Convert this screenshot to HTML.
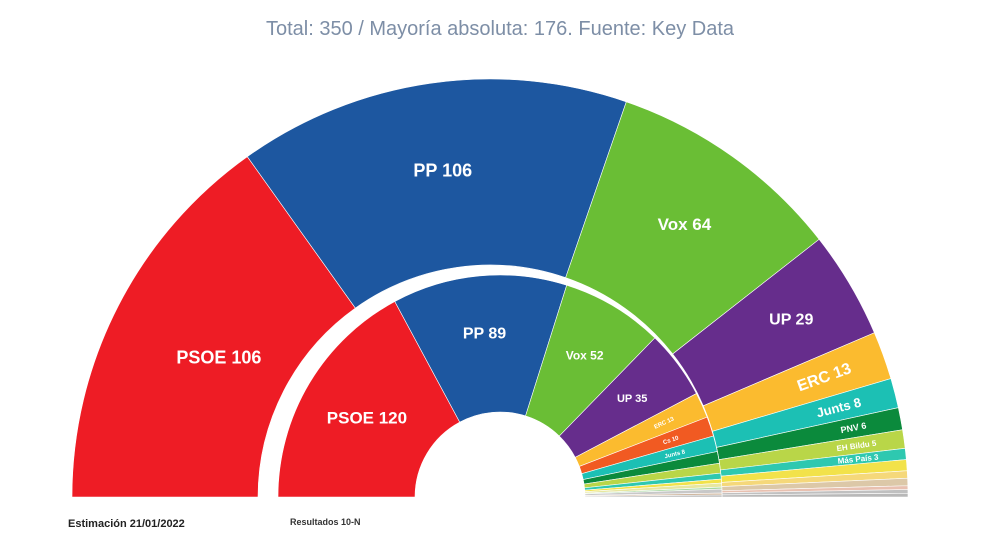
<!DOCTYPE html>
<html><head><meta charset="utf-8"><style>
html,body{margin:0;padding:0;background:#fff;width:990px;height:557px;overflow:hidden;font-family:"Liberation Sans",sans-serif}
</style></head><body>
<svg id="s" width="990" height="557" viewBox="0 0 990 557" xmlns="http://www.w3.org/2000/svg">
<text x="500" y="35" text-anchor="middle" font-size="20" fill="#7d8ea6" font-family="Liberation Sans">Total: 350 / Mayoría absoluta: 176. Fuente: Key Data</text>
<text x="68" y="527" font-size="11" font-weight="bold" fill="#222">Estimación 21/01/2022</text>
<text x="290" y="525" font-size="9" font-weight="bold" fill="#333">Resultados 10-N</text>
</svg>
<script>
var s=document.getElementById('s'),NS='http://www.w3.org/2000/svg';
function arc(cx,cy,r0,r1,a0,a1,col){
 var p=function(r,a){a=a*Math.PI/180;return [cx+r*Math.cos(a),cy-r*Math.sin(a)];};
 var A=p(r1,a0),B=p(r1,a1),C=p(r0,a1),D=p(r0,a0);
 var e=document.createElementNS(NS,'path');
 e.setAttribute('d','M'+A+' A'+r1+','+r1+' 0 0 1 '+B+' L'+C+' A'+r0+','+r0+' 0 0 0 '+D+'Z');
 e.setAttribute('fill',col);e.setAttribute('stroke','#fff');e.setAttribute('stroke-width','0.6');s.appendChild(e);
}
function lab(cx,cy,r,a,t,fs,rot){
 var ar=a*Math.PI/180,x=cx+r*Math.cos(ar),y=cy-r*Math.sin(ar);
 var e=document.createElementNS(NS,'text');
 e.setAttribute('x',x);e.setAttribute('y',y+fs*0.35);e.setAttribute('text-anchor','middle');
 e.setAttribute('font-size',fs);e.setAttribute('font-weight','bold');e.setAttribute('fill','#fff');
 if(rot)e.setAttribute('transform','rotate('+(-a)+' '+x+' '+y+')');
 e.textContent=t;s.appendChild(e);
}
function chart(cx,cy,r0,r1,data){
 var a=180;
 data.forEach(function(d){var a1=a-d[1]/350*180;arc(cx,cy,r0,r1,a,a1,d[2]);
  if(d[3])lab(cx,cy,d[4],(a+a1)/2,d[0]+' '+d[1],d[3],d[5]);a=a1;});
}
chart(490,497,232,418,[
 ['PSOE',106,'#ee1c25',18,305],['PP',106,'#1d57a0',18,330],['Vox',64,'#6abe35',17,335],
 ['UP',29,'#662d8c',16,350],['ERC',13,'#fbbb2f',16,355,1],['Junts',8,'#1cc0b4',13,360,1],
 ['PNV',6,'#0b8a3c',9,370,1],['EH Bildu',5,'#b9d648',8,370,1],['Más País',3,'#2ec8b0',8,370,1],
 ['Cs',3,'#f2e24a',0],['CUP',2,'#f5d87a',0],['BNG',2,'#dcc8a8',0],['CC',1,'#e8c0b0',0],
 ['NA+',1,'#c0c0c0',0],['Otros',1,'#b8b8b8',0]]);
chart(500,497,85,222,[
 ['PSOE',120,'#ee1c25',17,155],['PP',89,'#1d57a0',16,165],['Vox',52,'#6abe35',12,165],
 ['UP',35,'#662d8c',11,165],['ERC',13,'#fbbb2f',6,180,1],['Cs',10,'#f15a22',6,180,1],
 ['Junts',8,'#1cc0b4',6,180,1],['PNV',6,'#0b8a3c',0],['EH Bildu',5,'#b9d648',0],
 ['Más País',3,'#2ec8b0',0],['CUP',2,'#f2e24a',0],['CC',2,'#e7e7a0',0],['BNG',1,'#a8d8a0',0],
 ['NA+',2,'#c8c8c8',0],['PRC',1,'#d0b8a0',0],['Teruel',1,'#b8b8b8',0]]);
</script>
</body></html>
